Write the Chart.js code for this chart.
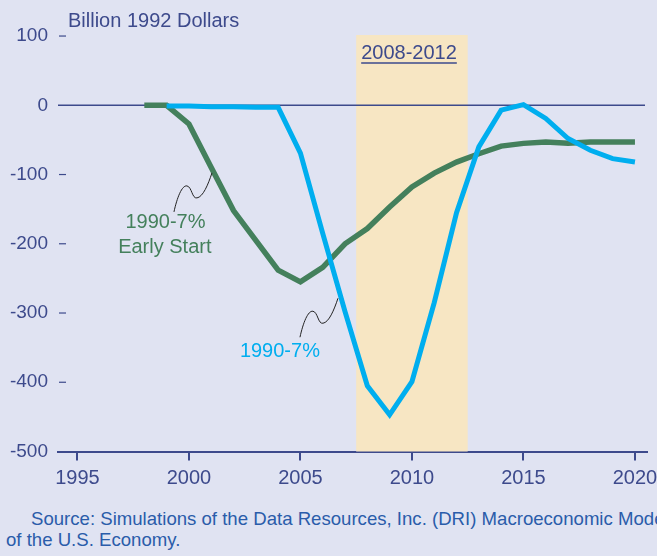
<!DOCTYPE html>
<html>
<head>
<meta charset="utf-8">
<script src="https://cdn.jsdelivr.net/npm/chart.js@4.4.1/dist/chart.umd.min.js"></script>
<style>
  html, body { margin: 0; padding: 0; background: #e0e3f2; overflow: hidden; }
  #wrap { position: relative; width: 657px; height: 556px; overflow: hidden; }
  #c { position: absolute; left: 0; top: 0; }
  #src {
    position: absolute; left: 6px; top: 508px;
    font: 18.6px/21px "Liberation Sans", Arial, sans-serif;
    color: #2a5caa; white-space: nowrap; text-indent: 25px;
  }
</style>
</head>
<body>
<div id="wrap">
  <canvas id="c" width="657" height="500"></canvas>
  <div id="src">Source: Simulations of the Data Resources, Inc. (DRI) Macroeconomic Model<br>of the U.S. Economy.</div>
</div>
<script>
// --- data (billion 1992 dollars) ---
const years = [1998, 1999, 2000, 2001, 2002, 2003, 2004, 2005, 2006, 2007, 2008, 2009,
               2010, 2011, 2012, 2013, 2014, 2015, 2016, 2017, 2018, 2019, 2020];
const earlyStart = [0, 0, -27, -90, -152, -195, -238, -255, -234, -200, -178, -147,
                    -118, -98, -82, -70, -59, -55, -53, -55, -53, -53, -53];
const base = [null, -1, -1, -2, -2, -3, -3, -69, -185, -298, -405, -447,
              -399, -285, -155, -60, -7, 1, -19, -48, -65, -77, -82];
const xTicks = [1995, 2000, 2005, 2010, 2015, 2020];
const yTicks = [-500, -400, -300, -200, -100, 0, 100];
const band = [2007.5, 2012.5];
const bandLabel = '2008-2012';
const yTitle = 'Billion 1992 Dollars';

const AXIS = '#3d4a8c';
const GREEN = '#44805c';
const CYAN = '#00aeef';
const BAND = '#f7e6c3';
const FONT = "'Liberation Sans', Arial, sans-serif";

Chart.defaults.font.family = FONT;

// squiggly pointer from label to line
function squiggle(ctx, sx, sy) {
  ctx.beginPath();
  ctx.moveTo(sx, sy);
  ctx.bezierCurveTo(sx + 3, sy - 14, sx + 8, sy - 27, sx + 13, sy - 26);
  ctx.bezierCurveTo(sx + 18, sy - 25, sx + 18, sy - 13, sx + 23, sy - 14);
  ctx.bezierCurveTo(sx + 29, sy - 15, sx + 34, sy - 27, sx + 38, sy - 39);
  ctx.stroke();
}

const extras = {
  id: 'extras',
  beforeDatasetsDraw(chart) {
    const { ctx, chartArea: a, scales: { x, y } } = chart;
    ctx.save();
    // shaded period
    const x0 = x.getPixelForValue(band[0]);
    const x1 = x.getPixelForValue(band[1]);
    ctx.fillStyle = BAND;
    ctx.fillRect(x0, a.top, x1 - x0, a.bottom - a.top);
    // zero line
    const y0 = y.getPixelForValue(0);
    ctx.strokeStyle = AXIS;
    ctx.lineWidth = 1.5;
    ctx.beginPath();
    ctx.moveTo(a.left, y0);
    ctx.lineTo(a.right - 2, y0);
    ctx.stroke();
    // inner tick dashes on y
    ctx.lineWidth = 1.2;
    yTicks.forEach(v => {
      if (v === 0 || v === yTicks[0]) return;
      const py = y.getPixelForValue(v);
      ctx.beginPath();
      ctx.moveTo(a.left + 1, py);
      ctx.lineTo(a.left + 8, py);
      ctx.stroke();
    });
    // band label, underlined
    ctx.font = '20px ' + FONT;
    ctx.fillStyle = AXIS;
    ctx.textAlign = 'left';
    ctx.textBaseline = 'alphabetic';
    const lx = x0 + 5, ly = y.getPixelForValue(67);
    ctx.fillText(bandLabel, lx, ly);
    const w = ctx.measureText(bandLabel).width;
    ctx.lineWidth = 1.5;
    ctx.beginPath();
    ctx.moveTo(lx, ly + 4);
    ctx.lineTo(lx + w, ly + 4);
    ctx.stroke();
    // axis title
    ctx.fillText(yTitle, a.left + 10, 27);
    ctx.restore();
  },
  afterDatasetsDraw(chart) {
    const { ctx, scales: { x, y } } = chart;
    ctx.save();
    ctx.font = '20px ' + FONT;
    ctx.textAlign = 'center';
    ctx.textBaseline = 'alphabetic';
    ctx.fillStyle = GREEN;
    ctx.fillText('1990-7%', x.getPixelForValue(1998.95), y.getPixelForValue(-177));
    ctx.fillText('Early Start', x.getPixelForValue(1998.92), y.getPixelForValue(-213));
    ctx.fillStyle = CYAN;
    ctx.fillText('1990-7%', x.getPixelForValue(2004.08), y.getPixelForValue(-363));
    ctx.strokeStyle = '#222';
    ctx.lineWidth = 1;
    squiggle(ctx, x.getPixelForValue(1999.33), y.getPixelForValue(-154));
    squiggle(ctx, x.getPixelForValue(2004.98), y.getPixelForValue(-335));
    ctx.restore();
  }
};

const toPts = arr => years.map((yr, i) => ({ x: yr, y: arr[i] }));

new Chart(document.getElementById('c'), {
  type: 'line',
  data: {
    datasets: [
      {
        label: '1990-7%',
        data: toPts(base),
        borderColor: CYAN,
        borderWidth: 5,
        pointRadius: 0,
        tension: 0,
        borderJoinStyle: 'miter',
        fill: false
      },
      {
        label: '1990-7% Early Start',
        data: toPts(earlyStart),
        borderColor: GREEN,
        borderWidth: 5.5,
        pointRadius: 0,
        tension: 0,
        borderJoinStyle: 'miter',
        fill: false
      }
    ]
  },
  options: {
    responsive: false,
    animation: false,
    layout: { padding: { top: 35, right: 0, left: 0, bottom: 0 } },
    plugins: { legend: { display: false }, tooltip: { enabled: false } },
    scales: {
      x: {
        type: 'linear',
        min: 1994.13,
        max: 2020.54,
        afterBuildTicks: s => { s.ticks = xTicks.map(v => ({ value: v })); },
        afterFit: s => { s.height = 48.5; s.paddingRight = 10; s.paddingLeft = 0; },
        border: { display: true, color: AXIS, width: 2 },
        grid: { drawOnChartArea: false, drawTicks: true, tickLength: 9, color: AXIS, lineWidth: 2 },
        ticks: { color: AXIS, font: { size: 20 }, padding: 6, maxRotation: 0, callback: v => String(v) }
      },
      y: {
        min: -500,
        max: 101.5,
        afterBuildTicks: s => { s.ticks = yTicks.map(v => ({ value: v })); },
        afterFit: s => { s.width = 58; },
        border: { display: false },
        grid: { display: false, drawTicks: false },
        ticks: { color: AXIS, font: { size: 19 }, padding: 10, callback: v => String(v) }
      }
    }
  },
  plugins: [extras]
});
</script>
</body>
</html>
